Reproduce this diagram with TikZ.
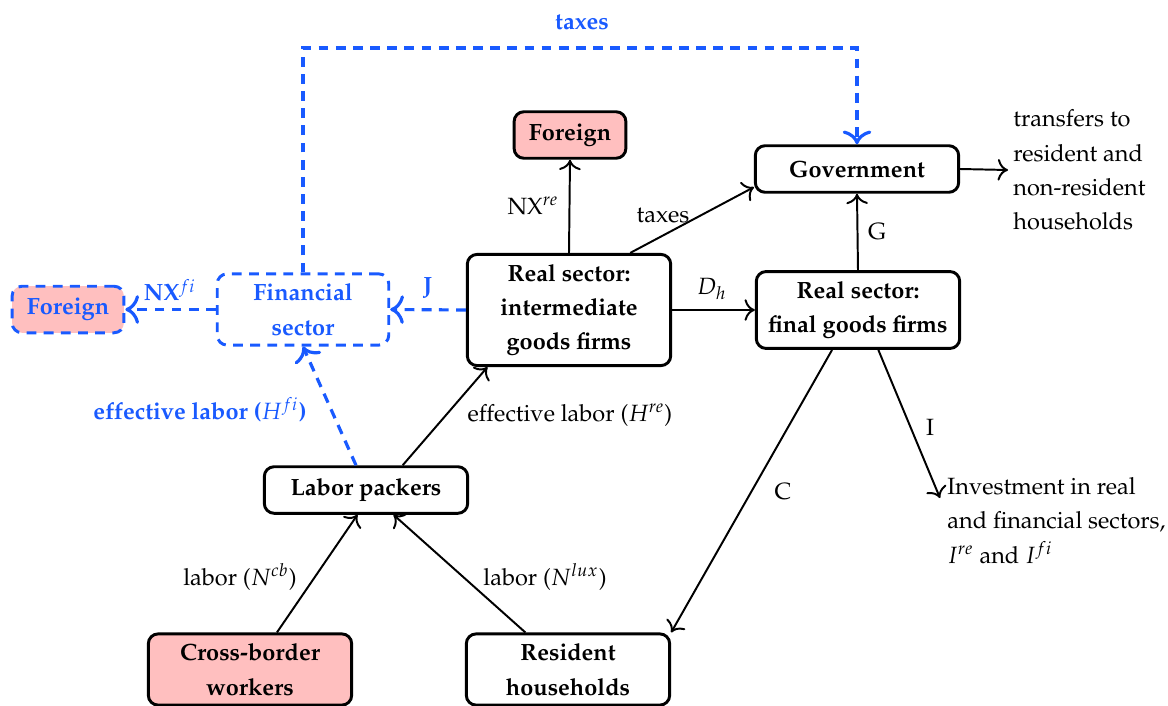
\documentclass[tikz,border=0pt]{standalone}
\usepackage[T1]{fontenc}
\usepackage{mathpazo}
\usetikzlibrary{arrows.meta,positioning,calc}
\definecolor{flowblue}{HTML}{195AFF}
\definecolor{abroad}{HTML}{FFBFBF}

\begin{document}
\begin{tikzpicture}[
  x=0.01434cm, y=-0.01434cm, >={To[scale=1.25]},
  font=\fontsize{9.6}{14}\selectfont,
  box/.style={draw, very thick, rounded corners=4pt, align=center,
    font=\fontsize{9.6}{14}\selectfont\bfseries, minimum width=83pt,
    minimum height=19pt, inner ysep=4pt},
  fbox/.style={box, draw=flowblue, text=flowblue, dash pattern=on 4pt off 3pt},
  arr/.style={->, thick},
  flow/.style={->, flowblue, line width=1.3pt, dash pattern=on 4pt off 3pt},
  lbl/.style={inner sep=1pt},
  blbl/.style={inner sep=1pt, text=flowblue, font=\fontsize{9.6}{14}\selectfont\bfseries},
  note/.style={align=left, inner sep=2pt}]
\useasboundingbox (0,0) rectangle (1168,706);

% ------------------------------------------------------------- boxes
\node[box] (gov) at (857,169) {Government};
\node[box, fill=abroad, minimum width=0pt, inner xsep=6pt] (forT) at (570,135) {Foreign};
\node[box] (inter) at (569,310) {Real sector:\\intermediate\\goods firms};
\node[box] (final) at (858,310) {Real sector:\\final goods firms};
\node[fbox, minimum width=70pt] (fin) at (303,309.5) {Financial\\sector};
\node[fbox, fill=abroad, minimum width=0pt, inner xsep=6pt] (forL) at (68,309.5) {Foreign};
\node[box] (pack) at (366,490) {Labor packers};
\node[box, fill=abroad] (cross) at (250,669.5) {Cross-border\\workers};
\node[box] (res) at (568,669.5) {Resident\\households};

% ------------------------------------------------------------- free text
\node[note, anchor=west] (transfers) at (1008,170)
  {transfers to\\resident and\\non-resident\\households};
\node[note, anchor=north west] (invest) at (942,472)
  {Investment in real\\and financial sectors,\\$I^{re}$ and $I^{fi}$};
\coordinate (invend) at (940,498);
\coordinate (taxtop) at (580,48);

% ------------------------------------------------------------- real flows
\draw[arr] (inter.north) -- (forT.south);
\draw[arr] (inter.43) -- (gov.190);
\draw[arr] (inter.east) -- (final.west);
\draw[arr] (final.north) -- (gov.south);
\draw[arr] (gov.east) -- (transfers.west);
\draw[arr] (final.237) -- (res.north east);
\draw[arr] (final.297) -- (invend);
\draw[arr] (pack.34) -- (inter.215);
\draw[arr] (cross.54) -- (pack.251);
\draw[arr] (res.139) -- (pack.318);

\node[lbl] (lnxre) at (533,206) {NX$^{re}$};
\node[lbl] (ltaxes) at (663,216) {taxes};
\node[lbl] (lg) at (877,232) {G};
\node[lbl] (ldh) at (712,289) {$D_h$};
\node[lbl] (lhre) at (570,415) {effective labor ($H^{re}$)};
\node[lbl] (lncb) at (240,577) {labor ($N^{cb}$)};
\node[lbl] (lnlux) at (545,577) {labor ($N^{lux}$)};
\node[lbl] (lc) at (783,492) {C};
\node[lbl] (li) at (930,427) {I};

% ------------------------------------------------------------- financial flows
\draw[flow] (inter.west) -- (fin.east);
\draw[flow] (fin.west) -- (forL.east);
\draw[flow] (pack.112) -- (fin.south);
\draw[flow] (fin.north) |- (taxtop) -| (gov.north);

\node[blbl] (lj) at (428,288) {J};
\node[blbl] (lnxfi) at (170,290) {NX$^{fi}$};
\node[blbl] (lhfi) at (200,410) {effective labor ($H^{fi}$)};
\node[blbl] (ltaxtop) at (582,22) {taxes};

\end{tikzpicture}
\end{document}
